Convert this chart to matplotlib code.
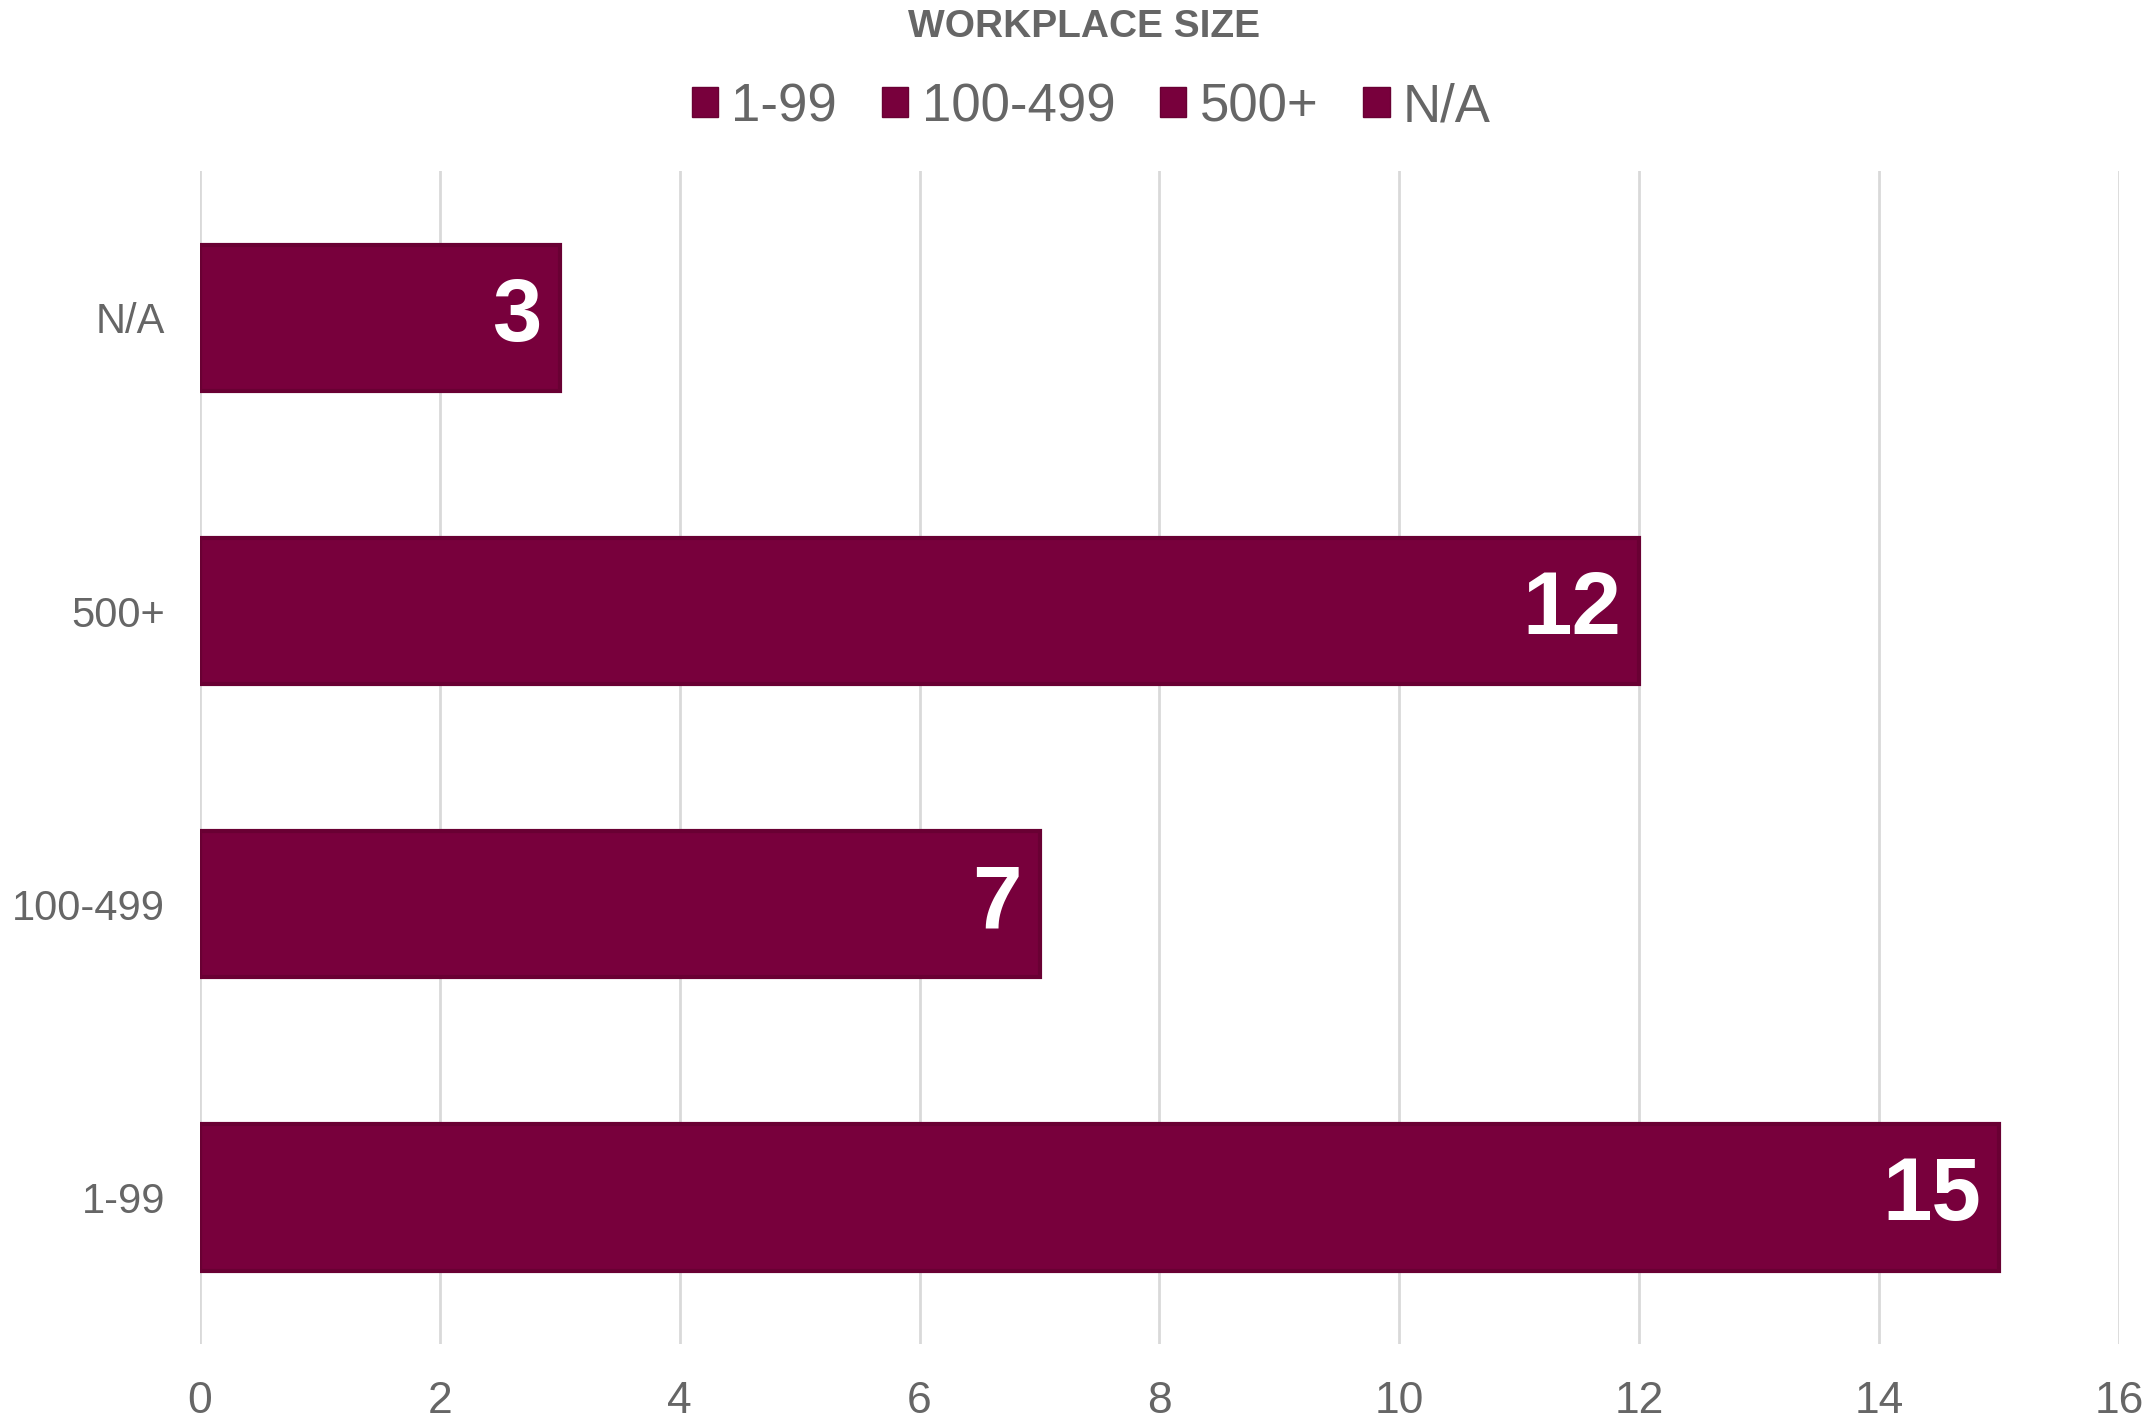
import numpy as np
import matplotlib.pyplot as plt
from matplotlib.patches import Patch

categories = ['1-99', '100-499', '500+', 'N/A']
counts = [15, 7, 12, 3]
xticks = [0, 2, 4, 6, 8, 10, 12, 14, 16]

bar_color = '#78003c'
edge_color = '#690033'
text_color = '#666666'

plt.rcParams['font.family'] = ['Liberation Sans', 'DejaVu Sans']

fig = plt.figure(figsize=(21.48, 14.27), dpi=100)
ax = fig.add_axes([0.0931, 0.0582, 0.8934, 0.8218])

y = np.arange(len(categories))
ax.barh(y, counts, height=0.5, color=bar_color, edgecolor=edge_color, linewidth=3, zorder=3)

for yi, v in zip(y, counts):
    ax.text(v - 0.15, yi, str(v), ha='right', va='center', color='white',
            fontsize=64, fontweight='bold', zorder=4)

ax.set_xlim(0, 16)
ax.set_ylim(-0.5, 3.5)
ax.set_xticks(xticks)
ax.set_yticks(y)
ax.set_yticklabels(categories)
ax.tick_params(axis='x', labelsize=32, colors=text_color, length=0, pad=27)
ax.tick_params(axis='y', labelsize=30, colors=text_color, length=0, pad=25)
ax.grid(axis='x', color='#d9d9d9', linewidth=2, zorder=0)
for s in ax.spines.values():
    s.set_visible(False)

fig.text(0.5045, 0.981, 'WORKPLACE SIZE', ha='center', va='center',
         fontsize=28, fontweight='bold', color=text_color)

handles = [Patch(facecolor=bar_color, edgecolor=edge_color) for _ in categories]
fig.legend(handles, categories, loc='center', bbox_to_anchor=(0.508, 0.925), ncol=4,
           frameon=False, fontsize=38, labelcolor=text_color,
           handlelength=0.5, handleheight=0.5, handletextpad=0.25, columnspacing=0.85)

fig.savefig('out.png', dpi=100)
